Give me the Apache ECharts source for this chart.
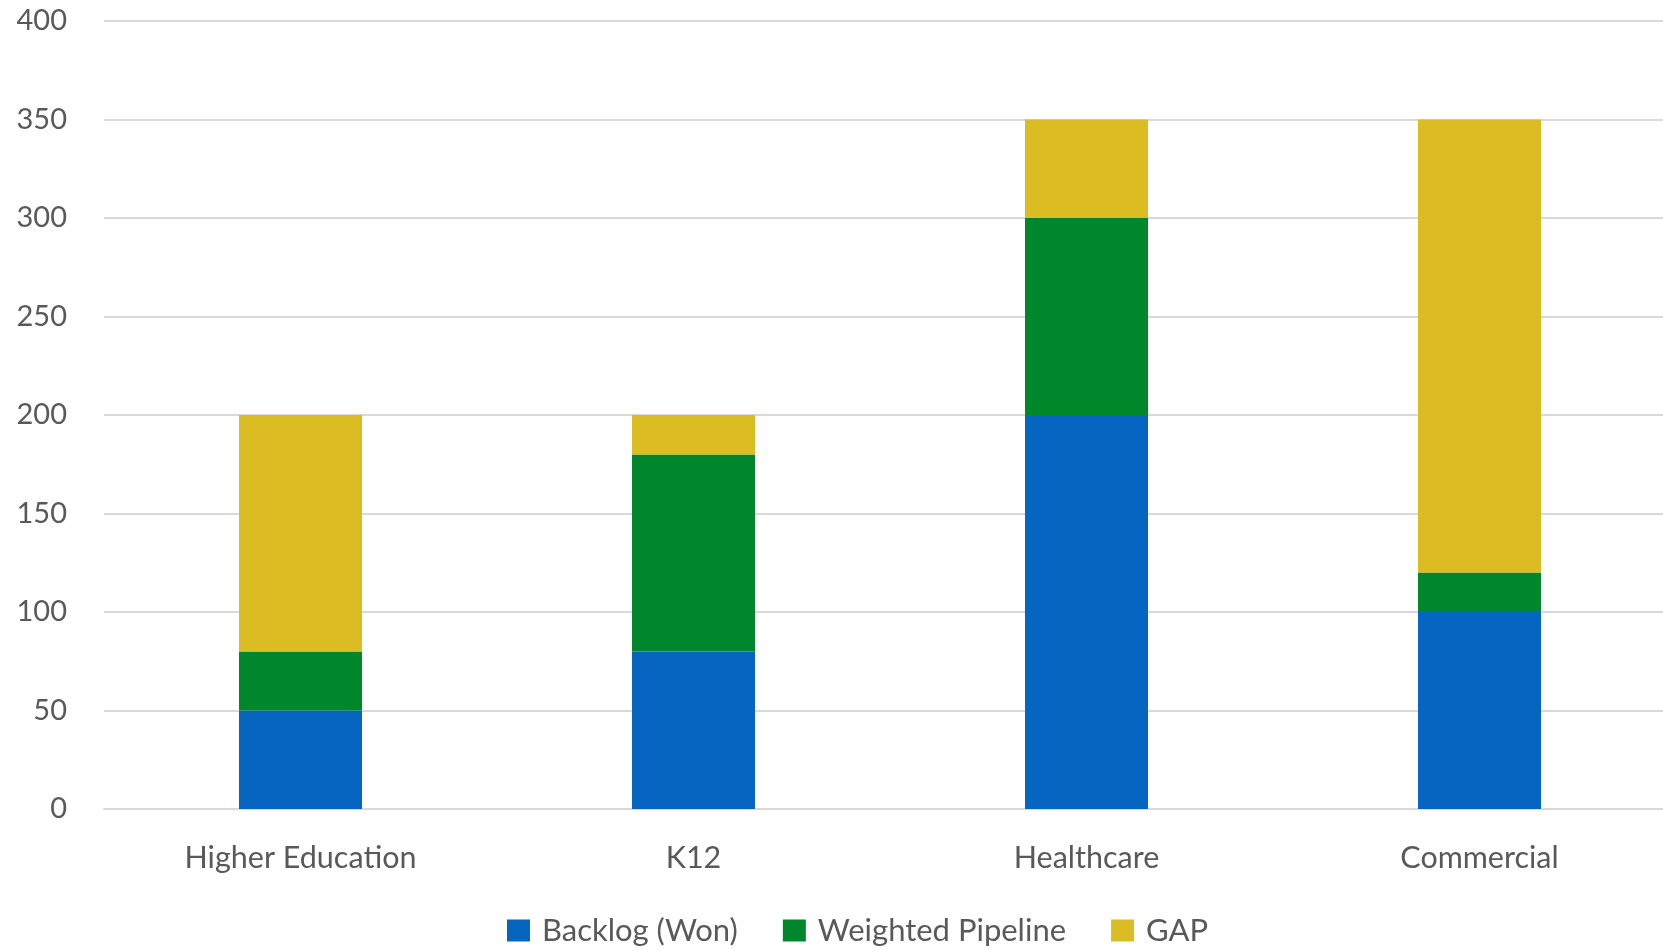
<!DOCTYPE html>
<html>
<head>
<meta charset="utf-8">
<script src="https://cdn.jsdelivr.net/npm/echarts@6/dist/echarts.min.js"></script>
<style>
  html, body { margin: 0; padding: 0; background: #ffffff; overflow: hidden; }
  #chart { width: 1676px; height: 950px; }
</style>
</head>
<body>
<div id="chart"></div>
<script>
// Sector targets split into won backlog, weighted pipeline and remaining gap
const categories = ['Higher Education', 'K12', 'Healthcare', 'Commercial'];
const backlogWon = [50, 80, 200, 100];
const weightedPipeline = [30, 100, 100, 20];
const gap = [120, 20, 50, 230];
const yTicks = [0, 50, 100, 150, 200, 250, 300, 350, 400];

const FONT = 'Lato, "Open Sans", sans-serif';
const TEXT = '#595959';

const chart = echarts.init(document.getElementById('chart'), null, { renderer: 'canvas' });

function bar(name, data, color) {
  return {
    name: name,
    type: 'bar',
    stack: 'total',
    data: data,
    barWidth: '31.3%',
    itemStyle: { color: color },
    emphasis: { disabled: true }
  };
}

chart.setOption({
  animation: false,
  grid: { left: 104, right: 0, top: 21, bottom: 141, containLabel: false },
  legend: {
    top: 915,
    left: 507,
    padding: 0,
    itemWidth: 23,
    itemHeight: 22,
    itemGap: 45,
    icon: 'rect',
    textStyle: { fontFamily: FONT, fontSize: 31, color: TEXT, padding: [0, 0, 0, 7] },
    data: ['Backlog (Won)', 'Weighted Pipeline', 'GAP']
  },
  xAxis: {
    type: 'category',
    data: categories,
    axisLine: { lineStyle: { color: '#d9d9d9', width: 2 } },
    axisTick: { show: false },
    axisLabel: { fontFamily: FONT, fontSize: 30.5, color: TEXT, margin: 34 }
  },
  yAxis: {
    type: 'value',
    min: yTicks[0],
    max: yTicks[yTicks.length - 1],
    interval: 50,
    axisLine: { show: false },
    axisTick: { show: false },
    axisLabel: { fontFamily: FONT, fontSize: 29, color: TEXT, margin: 37 },
    splitLine: { lineStyle: { color: '#d9d9d9', width: 2 } }
  },
  series: [
    bar('Backlog (Won)', backlogWon, '#0565c1'),
    bar('Weighted Pipeline', weightedPipeline, '#00872c'),
    bar('GAP', gap, '#dbbd23')
  ]
});
</script>
</body>
</html>
